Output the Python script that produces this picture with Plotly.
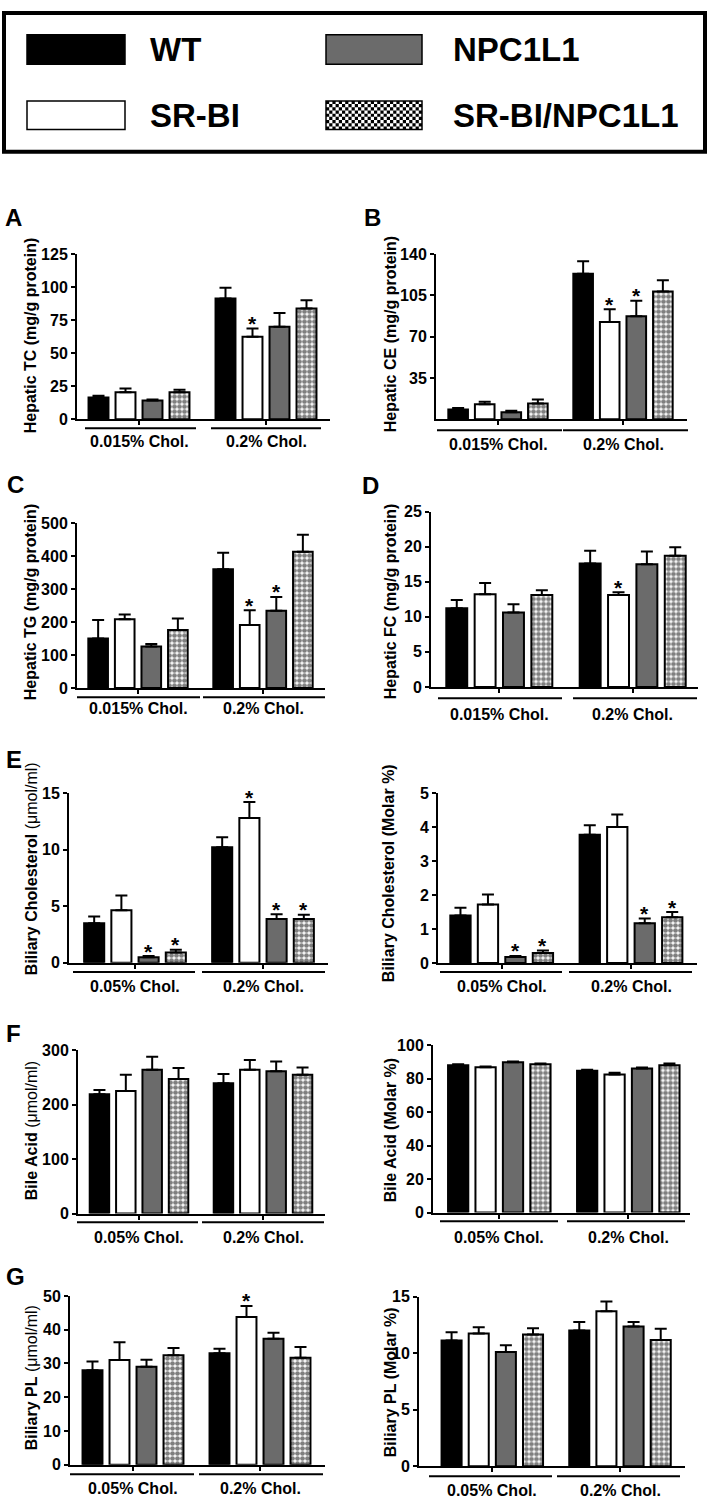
import plotly.graph_objects as go

W, H = 711, 1507
FONT = "Liberation Sans, Arial, Helvetica, sans-serif"

# ---------------- data ----------------
SERIES = ["WT", "SR-BI", "NPC1L1", "SR-BI/NPC1L1"]
DIET_HEPATIC = ["0.015% Chol.", "0.2% Chol."]
DIET_BILE = ["0.05% Chol.", "0.2% Chol."]

# rows: WT, SR-BI, NPC1L1, SR-BI/NPC1L1 ; columns: low-chol diet, 0.2% diet
TC_MEAN = [[16.5, 91.5], [20.5, 62.5], [14.2, 70.0], [20.5, 83.8]]
TC_SEM = [[1.3, 8.0], [2.8, 6.3], [0.7, 10.5], [1.8, 6.3]]
TC_SIG = [[0, 0], [0, 1], [0, 0], [0, 0]]

CE_MEAN = [[8.4, 123.5], [12.8, 82.4], [5.9, 87.4], [13.4, 108.4]]
CE_SEM = [[1.1, 10.5], [2.0, 10.9], [1.4, 13.2], [3.4, 9.6]]
CE_SIG = [[0, 0], [0, 1], [0, 1], [0, 0]]

TG_MEAN = [[150, 360], [208, 191], [126, 234], [176, 413]]
TG_SEM = [[56, 50], [15, 45], [7, 42], [35, 52]]
TG_SIG = [[0, 0], [0, 1], [0, 1], [0, 0]]

FC_MEAN = [[11.2, 17.6], [13.2, 13.1], [10.6, 17.5], [13.1, 18.7]]
FC_SEM = [[1.2, 1.8], [1.6, 0.4], [1.2, 1.8], [0.7, 1.2]]
FC_SIG = [[0, 0], [0, 1], [0, 0], [0, 0]]

BCH_MEAN = [[3.5, 10.2], [4.65, 12.8], [0.5, 3.86], [0.9, 3.86]]
BCH_SEM = [[0.6, 0.9], [1.3, 1.4], [0.1, 0.44], [0.25, 0.38]]
BCH_SIG = [[0, 0], [0, 1], [1, 1], [1, 1]]

BCHM_MEAN = [[1.40, 3.77], [1.72, 4.00], [0.18, 1.17], [0.30, 1.35]]
BCHM_SEM = [[0.23, 0.28], [0.30, 0.37], [0.03, 0.14], [0.07, 0.15]]
BCHM_SIG = [[0, 0], [0, 0], [1, 1], [1, 1]]

BA_MEAN = [[219, 239], [225, 264], [264, 261], [247, 255]]
BA_SEM = [[8, 17], [30, 18], [24, 18], [20, 13]]
BA_SIG = [[0, 0], [0, 0], [0, 0], [0, 0]]

BAM_MEAN = [[88.2, 84.8], [87.0, 82.6], [90.0, 86.2], [88.8, 88.2]]
BAM_SEM = [[0.6, 0.6], [0.4, 1.0], [0.4, 0.6], [0.4, 1.0]]
BAM_SIG = [[0, 0], [0, 0], [0, 0], [0, 0]]

PL_MEAN = [[28.0, 33.0], [31.0, 43.75], [29.0, 37.3], [32.4, 31.7]]
PL_SEM = [[2.6, 1.4], [5.3, 3.3], [2.1, 1.8], [2.2, 3.2]]
PL_SIG = [[0, 0], [0, 1], [0, 0], [0, 0]]

PLM_MEAN = [[11.13, 12.0], [11.74, 13.7], [10.1, 12.35], [11.65, 11.16]]
PLM_SEM = [[0.73, 0.76], [0.55, 0.86], [0.6, 0.41], [0.55, 1.0]]
PLM_SIG = [[0, 0], [0, 0], [0, 0], [0, 0]]

# ---------------- styles ----------------
FILL = ["black", "white", "#6b6b6b", "white"]
PATTERN = [None, None, None, dict(shape=".", fgcolor="black", bgcolor="white", size=5, solidity=0.7)]
STEP = 0.2126      # distance between neighbouring bars in group units
BAR_W = 0.157

# panel geometry in page pixels
PANELS = [
    dict(mean=TC_MEAN, sem=TC_SEM, sig=TC_SIG, diets=DIET_HEPATIC, ymax=125, ticks=[0, 25, 50, 75, 100, 125],
         title="<b>Hepatic TC (mg/g protein)</b>", letter="A",
         x0=77, x1=330, c0=139, c1=266, ytop=249, ybot=416, br_y=425, br=[(85, 196), (211, 321)], lab_y=438,
         tx=30, ty=331, lx=3, ly=212),
    dict(mean=CE_MEAN, sem=CE_SEM, sig=CE_SIG, diets=DIET_HEPATIC, ymax=140, ticks=[35, 70, 105, 140],
         title="<b>Hepatic CE (mg/g protein)</b>", letter="B",
         x0=436, x1=687, c0=498, c1=623, ytop=249, ybot=416, br_y=427, br=[(437, 562), (563, 688)], lab_y=441,
         tx=390, ty=330, lx=362, ly=212),
    dict(mean=TG_MEAN, sem=TG_SEM, sig=TG_SIG, diets=DIET_HEPATIC, ymax=500, ticks=[0, 100, 200, 300, 400, 500],
         title="<b>Hepatic TG (mg/g protein)</b>", letter="C",
         x0=77, x1=325, c0=138, c1=263, ytop=521, ybot=687.7, br_y=697, br=[(77, 200), (203, 325)], lab_y=708.5,
         tx=30, ty=601, lx=5, ly=482),
    dict(mean=FC_MEAN, sem=FC_SEM, sig=FC_SIG, diets=DIET_HEPATIC, ymax=25, ticks=[0, 5, 10, 15, 20, 25],
         title="<b>Hepatic FC (mg/g protein)</b>", letter="D",
         x0=431, x1=698, c0=499.3, c1=632.7, ytop=509.3, ybot=686.7, br_y=698, br=[(438, 562), (573, 697)], lab_y=715,
         tx=390, ty=600, lx=360, ly=483),
    dict(mean=BCH_MEAN, sem=BCH_SEM, sig=BCH_SIG, diets=DIET_BILE, ymax=15, ticks=[0, 5, 10, 15],
         title="<b>Biliary Cholesterol</b> (μmol/ml)", letter="E",
         x0=69, x1=328, c0=135, c1=263, ytop=794, ybot=965.7, br_y=975, br=[(73, 195), (202, 325)], lab_y=990,
         tx=31, ty=871, lx=4, ly=760),
    dict(mean=BCHM_MEAN, sem=BCHM_SEM, sig=BCHM_SIG, diets=DIET_BILE, ymax=5, ticks=[0, 1, 2, 3, 4, 5],
         title="<b>Biliary Cholesterol (Molar %)</b>", letter="",
         x0=438, x1=697, c0=501.7, c1=631, ytop=794, ybot=966, br_y=975, br=[(440, 562), (569, 692)], lab_y=990,
         tx=388, ty=875, lx=0, ly=0),
    dict(mean=BA_MEAN, sem=BA_SEM, sig=BA_SIG, diets=DIET_BILE, ymax=300, ticks=[0, 100, 200, 300],
         title="<b>Bile Acid</b> (μmol/ml)", letter="F",
         x0=78, x1=325, c0=139, c1=263, ytop=1054, ybot=1219.3, br_y=1228, br=[(77, 198), (202, 324)], lab_y=1244,
         tx=31, ty=1136, lx=4, ly=1037),
    dict(mean=BAM_MEAN, sem=BAM_SEM, sig=BAM_SIG, diets=DIET_BILE, ymax=100, ticks=[0, 20, 40, 60, 80, 100],
         title="<b>Bile Acid (Molar %)</b>", letter="",
         x0=433, x1=690, c0=499.3, c1=628.3, ytop=1049.3, ybot=1218.3, br_y=1227, br=[(440, 558), (567, 685)], lab_y=1244,
         tx=390, ty=1135, lx=0, ly=0),
    dict(mean=PL_MEAN, sem=PL_SEM, sig=PL_SIG, diets=DIET_BILE, ymax=50, ticks=[0, 10, 20, 30, 40, 50],
         title="<b>Biliary PL</b> (μmol/ml)", letter="G",
         x0=70, x1=325, c0=133, c1=260, ytop=1302.7, ybot=1473.3, br_y=1483, br=[(70, 194), (199, 323)], lab_y=1497.5,
         tx=31, ty=1386, lx=4, ly=1283),
    dict(mean=PLM_MEAN, sem=PLM_SEM, sig=PLM_SIG, diets=DIET_BILE, ymax=15, ticks=[0, 5, 10, 15],
         title="<b>Biliary PL (Molar %)</b>", letter="",
         x0=419, x1=685, c0=492.3, c1=620, ytop=1303.3, ybot=1475, br_y=1485, br=[(429, 552), (557, 680)], lab_y=1499,
         tx=390, ty=1390, lx=0, ly=0),
]


def px(x):
    return x / W


def py(y):
    return 1 - y / H


fig = go.Figure()
layout = dict(width=W, height=H, margin=dict(l=0, r=0, t=0, b=0),
              paper_bgcolor="white", plot_bgcolor="white", showlegend=False,
              barmode="overlay", font=dict(family=FONT, color="black"))
annotations = []
shapes = []

for i, p in enumerate(PANELS):
    k = "" if i == 0 else str(i + 1)
    sp = p["c1"] - p["c0"]
    layout["xaxis" + k] = dict(
        domain=[px(p["x0"]), px(p["x1"])],
        range=[(p["x0"] - p["c0"]) / sp, (p["x1"] - p["c0"]) / sp],
        tickvals=[0, 1], showticklabels=False, ticks="outside", ticklen=4, tickwidth=2,
        tickcolor="black", showline=True, linewidth=2, linecolor="black",
        showgrid=False, zeroline=False, anchor="y" + k, fixedrange=True)
    layout["yaxis" + k] = dict(
        domain=[py(p["ybot"]), py(p["ytop"])], range=[0, p["ymax"]], tickvals=p["ticks"],
        ticks="outside", ticklen=4, tickwidth=2, tickcolor="black",
        showline=True, linewidth=2, linecolor="black", showgrid=False, zeroline=False,
        tickfont=dict(family=FONT, size=16, color="black", weight="bold"),
        anchor="x" + k, fixedrange=True)

    for s, name in enumerate(SERIES):
        xs = [g + (s - 1.5) * STEP for g in range(2)]
        marker = dict(color=FILL[s], line=dict(color="black", width=2))
        if PATTERN[s]:
            marker["pattern"] = PATTERN[s]
        fig.add_trace(go.Bar(
            x=xs, y=p["mean"][s], width=BAR_W, name=name, marker=marker,
            error_y=dict(type="data", array=p["sem"][s], arrayminus=[0, 0], symmetric=False,
                         color="black", thickness=2, width=6),
            xaxis="x" + k, yaxis="y" + k, showlegend=False))
        for g in range(2):
            if p["sig"][s][g]:
                annotations.append(dict(
                    x=xs[g], y=p["mean"][s][g] + p["sem"][s][g], xref="x" + k, yref="y" + k,
                    text="<b>*</b>", showarrow=False, yanchor="middle", yshift=5,
                    font=dict(family=FONT, size=21, color="black")))

    # group brackets and diet labels
    for g, (a, b) in enumerate(p["br"]):
        shapes.append(dict(type="line", xref="paper", yref="paper", x0=px(a), x1=px(b),
                           y0=py(p["br_y"]), y1=py(p["br_y"]), line=dict(color="black", width=2)))
        cx = p["c0"] + g * sp
        annotations.append(dict(x=px(cx), y=py(p["lab_y"]), xref="paper", yref="paper",
                                text=p["diets"][g], showarrow=False, xanchor="center", yanchor="middle",
                                font=dict(family=FONT, size=16, color="black", weight="bold")))
    # y title
    annotations.append(dict(x=px(p["tx"]), y=py(p["ty"]), xref="paper", yref="paper",
                            text=p["title"], textangle=-90, showarrow=False,
                            xanchor="center", yanchor="middle",
                            font=dict(family=FONT, size=16, color="black")))
    if p["letter"]:
        annotations.append(dict(x=px(p["lx"]), y=py(p["ly"]), xref="paper", yref="paper",
                                text=p["letter"], showarrow=False, xanchor="left", yanchor="middle",
                                font=dict(family=FONT, size=24, color="black", weight="bold")))

# ---------------- legend box ----------------
shapes.append(dict(type="rect", xref="paper", yref="paper", x0=px(4), x1=px(705), y0=py(5), y1=py(145.5),
                   line=dict(color="black", width=4), fillcolor="rgba(0,0,0,0)"))
SWATCH = [(27, 125, 27, 57), (27, 125, 94, 123), (326, 422, 27, 57), (326, 422, 94, 123)]
TEXT_X = [148, 148, 451, 451]
for s, name in enumerate(SERIES):
    a, b, c, d = SWATCH[s]
    if PATTERN[s]:
        cell = 3.2
        ncol = int(round((b - a) / cell))
        nrow = int(round((d - c) / cell))
        cw = (b - a) / ncol
        ch = (d - c) / nrow
        path = ""
        for r in range(nrow):
            for q in range(ncol):
                if (r + q) % 2 == 0:
                    xa, xb = px(a + q * cw), px(a + (q + 1) * cw)
                    ya, yb = py(c + r * ch), py(c + (r + 1) * ch)
                    path += f"M{xa:.5f},{ya:.5f}L{xb:.5f},{ya:.5f}L{xb:.5f},{yb:.5f}L{xa:.5f},{yb:.5f}Z"
        shapes.append(dict(type="rect", xref="paper", yref="paper", x0=px(a), x1=px(b), y0=py(c), y1=py(d),
                           line=dict(width=0), fillcolor="white"))
        shapes.append(dict(type="path", xref="paper", yref="paper", path=path,
                           fillcolor="black", line=dict(width=0)))
        shapes.append(dict(type="rect", xref="paper", yref="paper", x0=px(a), x1=px(b), y0=py(c), y1=py(d),
                           line=dict(color="black", width=1.5), fillcolor="rgba(0,0,0,0)"))
    else:
        shapes.append(dict(type="rect", xref="paper", yref="paper", x0=px(a), x1=px(b), y0=py(c), y1=py(d),
                           line=dict(color="black", width=1.5), fillcolor=FILL[s]))
    annotations.append(dict(x=px(TEXT_X[s]), y=py((c + d) / 2), xref="paper", yref="paper",
                            text=name, showarrow=False, xanchor="left", yanchor="middle",
                            font=dict(family=FONT, size=33, color="black", weight="bold")))

layout["annotations"] = annotations
layout["shapes"] = shapes
fig.update_layout(**layout)
fig.write_html("out.html", config={"displayModeBar": False},
               post_script="document.body.style.margin='0';document.body.style.overflow='hidden';")
